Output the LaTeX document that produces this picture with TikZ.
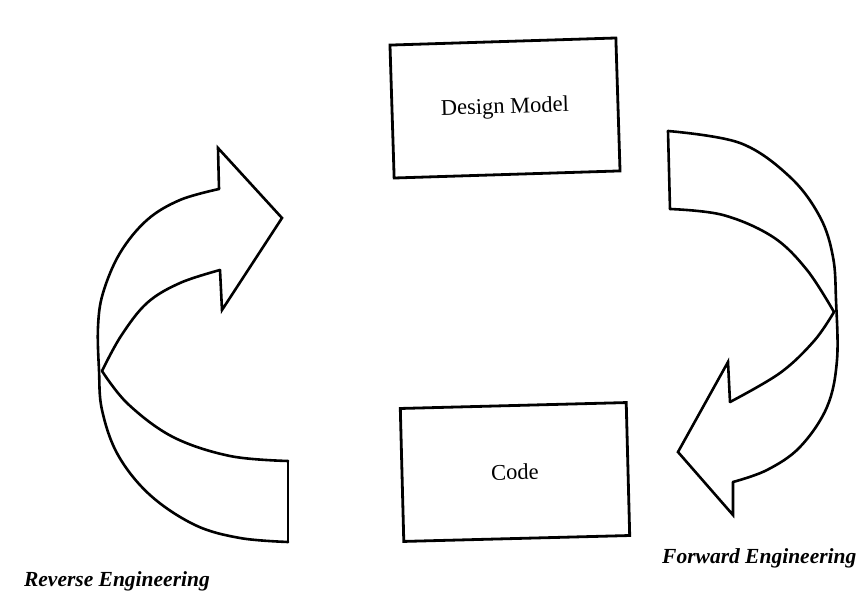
\documentclass[tikz,border=0pt]{standalone}
\usepackage{fontspec}
\setmainfont{Liberation Serif}
\begin{document}
\begin{tikzpicture}[x=1pt,y=-1pt,
  boxnode/.style={draw, line width=2.8pt, minimum width=226pt, minimum height=133pt, inner sep=0pt, font=\fontsize{22.5}{26}\selectfont},
  band/.style={line width=2.6pt, line join=miter, line cap=round},
  lbl/.style={font=\fontsize{21.5}{26}\selectfont\bfseries\itshape, inner sep=0pt}]
\useasboundingbox (0,0) rectangle (860,596);
\clip (0,0) rectangle (860,596);
% boxes
\node[boxnode, rotate=1.8] (design) at (505,108) {Design Model};
\node[boxnode, rotate=1.5] (code) at (515,472) {Code};
% left arrow (reverse engineering)
\draw[band] (219,189) -- (218,148) -- (282,218) -- (222,310) -- (220,270);
\draw[band] plot[smooth, tension=0.6] coordinates {(219,189) (180,200) (147,220) (120,253) (103,293) (98,327) (99,370) (102,410) (118,455) (150,495) (195,525) (240,538) (288,542)};
\draw[band] plot[smooth, tension=0.6] coordinates {(220,270) (180,283) (147,303) (121,336) (102,371)};
\draw[band] plot[smooth, tension=0.6] coordinates {(102,371) (128,404) (173,437) (230,456) (288,461)};
\draw[band] (288,461) -- (288,542);
% right arrow (forward engineering)
\draw[band] (668,131) -- (670,209);
\draw[band] plot[smooth, tension=0.6] coordinates {(668,131) (740,143) (790,177) (820,217) (833,257) (836,300) (837,360) (827,407) (800,447) (767,470) (733,482)};
\draw[band] plot[smooth, tension=0.6] coordinates {(670,209) (723,215) (773,237) (807,270) (834,312)};
\draw[band] plot[smooth, tension=0.6] coordinates {(834,312) (814,341) (780,373) (730,402)};
\draw[band] (730,402) -- (728,362) -- (678,452) -- (733,515) -- (733,482);
% labels
\node[lbl, anchor=base east] (rev) at (210,586) {Reverse Engineering};
\node[lbl, anchor=base west] (fwd) at (662,563) {Forward Engineering};
\end{tikzpicture}
\end{document}
